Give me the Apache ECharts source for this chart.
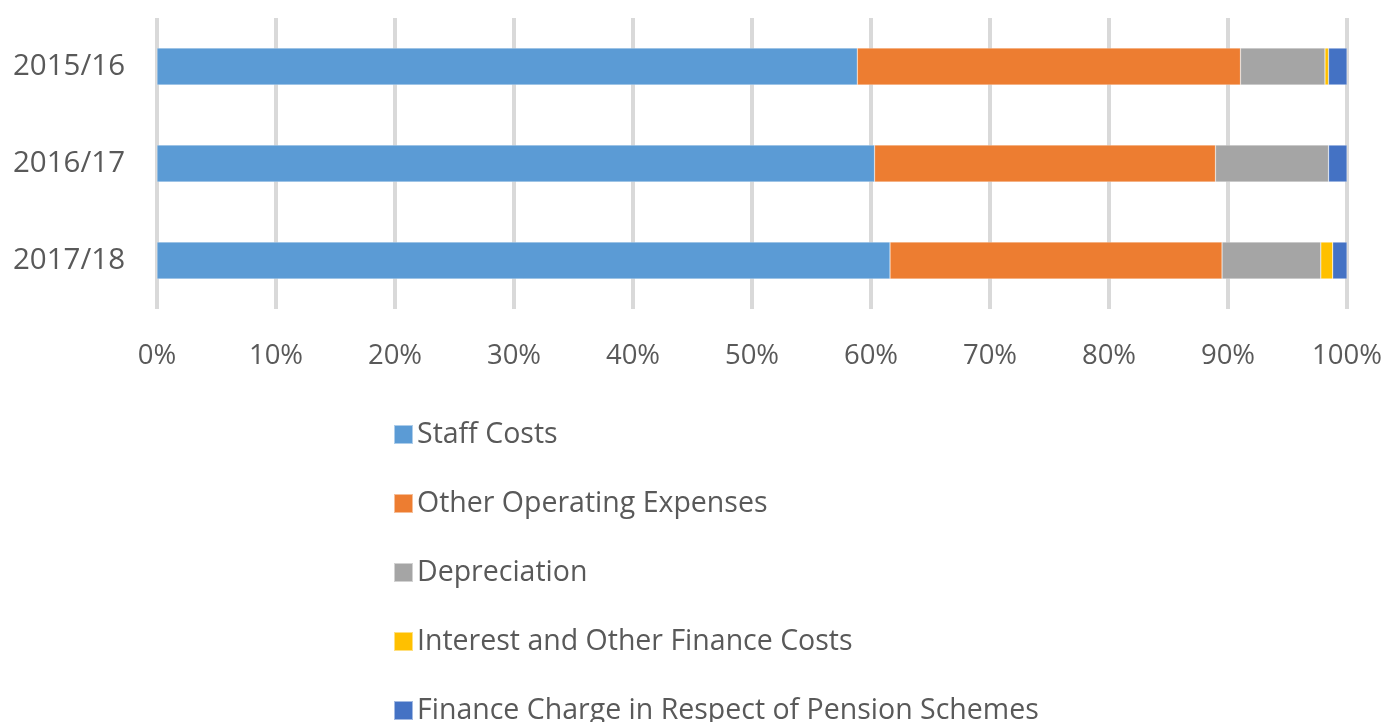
<!DOCTYPE html>
<html>
<head>
<meta charset="utf-8">
<script src="https://cdn.jsdelivr.net/npm/echarts@6/dist/echarts.min.js"></script>
<style>
  html, body { margin: 0; padding: 0; background: #ffffff; }
  #chart { width: 1387px; height: 722px; }
</style>
</head>
<body>
<div id="chart"></div>
<script>
// Share of total expenditure by cost type, per financial year (%)
const years = ['2015/16', '2016/17', '2017/18'];
const staffCosts = [58.85, 60.3, 61.6];
const otherOperating = [32.2, 28.65, 27.9];
const depreciation = [7.1, 9.5, 8.3];
const interestFinance = [0.3, 0.0, 1.0];
const pensionFinance = [1.55, 1.55, 1.2];
const percentTicks = [0, 10, 20, 30, 40, 50, 60, 70, 80, 90, 100];

const seriesDefs = [
  { name: 'Staff Costs', data: staffCosts, color: '#5B9BD5' },
  { name: 'Other Operating Expenses', data: otherOperating, color: '#ED7D31' },
  { name: 'Depreciation', data: depreciation, color: '#A5A5A5' },
  { name: 'Interest and Other Finance Costs', data: interestFinance, color: '#FFC000' },
  { name: 'Finance Charge in Respect of Pension Schemes', data: pensionFinance, color: '#4472C4' }
];

const font = '"Open Sans", "DejaVu Sans", sans-serif';
const chart = echarts.init(document.getElementById('chart'));

chart.setOption({
  animation: false,
  backgroundColor: '#ffffff',
  grid: { left: 157, right: 40, top: 18, height: 291, containLabel: false },
  xAxis: {
    type: 'value',
    min: percentTicks[0],
    max: percentTicks[percentTicks.length - 1],
    interval: 10,
    axisLine: { show: false },
    axisTick: { show: false },
    axisLabel: {
      formatter: '{value}%',
      color: '#595959',
      fontFamily: font,
      fontSize: 27.5,
      margin: 33
    },
    splitLine: { show: true, lineStyle: { color: '#D9D9D9', width: 4 } }
  },
  yAxis: {
    type: 'category',
    data: years,
    inverse: true,
    axisLine: { show: false },
    axisTick: { show: false },
    axisLabel: {
      color: '#595959',
      fontFamily: font,
      fontSize: 29.5,
      margin: 32,
      padding: [4, 0, 0, 0]
    }
  },
  legend: {
    orient: 'vertical',
    left: 388,
    top: 415,
    height: 400,
    itemWidth: 19,
    itemHeight: 19,
    itemGap: 40,
    icon: 'rect',
    textStyle: {
      color: '#595959',
      fontFamily: font,
      fontSize: 28.5,
      lineHeight: 28,
      padding: [0, 0, 0, -1]
    },
    data: seriesDefs.map(s => s.name)
  },
  series: seriesDefs.map(s => ({
    name: s.name,
    type: 'bar',
    stack: 'total',
    data: s.data,
    barWidth: '38%',
    itemStyle: { color: s.color, borderColor: 'rgba(255,255,255,0.5)', borderWidth: 0.5 }
  }))
});
</script>
</body>
</html>
